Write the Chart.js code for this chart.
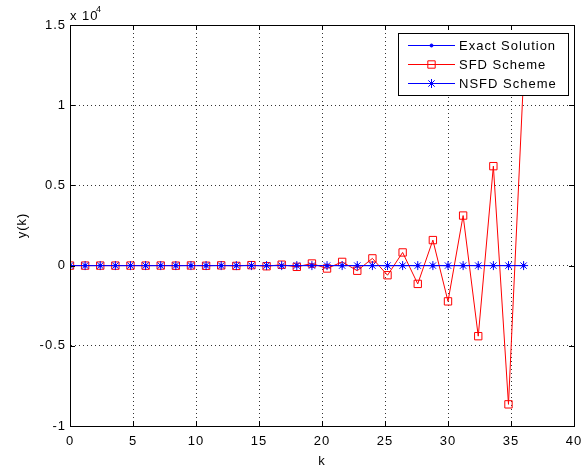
<!DOCTYPE html>
<html>
<head>
<meta charset="utf-8">
<script src="https://cdn.jsdelivr.net/npm/chart.js@4"></script>
<style>
  body { margin: 0; background: #fff; }
  #wrap { width: 581px; height: 469px; }
</style>
</head>
<body>
<div id="wrap"><canvas id="chart" width="581" height="469"></canvas></div>
<script>
// step values k
const kValues = [0, 1.2, 2.4, 3.6, 4.8, 6, 7.2, 8.4, 9.6, 10.8, 12, 13.2, 14.4, 15.6, 16.8, 18,
  19.2, 20.4, 21.6, 22.8, 24, 25.2, 26.4, 27.6, 28.8, 30, 31.2, 32.4, 33.6, 34.8, 36];

const exactValues = [0.5, 0.38, 0.29, 0.22, 0.17, 0.13, 0.1, 0.08, 0.06, 0.05, 0.04, 0.03, 0.02, 0.02,
  0.01, 0.01, 0.01, 0.01, 0, 0, 0, 0, 0, 0, 0, 0, 0, 0, 0, 0, 0];

const sfdValues = [0.5, -0.7, 1, -1.4, 1.9, -2.7, 3.8, -5.3, 7.4, -10, 14, -20, 28, -40, 56, -78,
  130, -180, 230, -320, 450, -600, 820, -1140, 1590, -2230, 3120, -4400, 6200, -8650, 11800];

const nsfdValues = [0.5, 0.37, 0.28, 0.21, 0.16, 0.12, 0.09, 0.07, 0.05, 0.04, 0.03, 0.02, 0.02, 0.01,
  0.01, 0.01, 0, 0, 0, 0, 0, 0, 0, 0, 0, 0, 0, 0, 0, 0, 0];

const xTicks = [0, 5, 10, 15, 20, 25, 30, 35, 40];
const yTicks = [-10000, -5000, 0, 5000, 10000, 15000];

const seriesNames = ["Exact Solution", "SFD Scheme", "NSFD Scheme"];

const font = "Liberation Sans, Arial, Helvetica, sans-serif";

function pts(ys) {
  return kValues.map((k, i) => ({ x: k, y: ys[i] }));
}

// matlab text is a bit wider than arial
const spacing = {
  id: "spacing",
  beforeLayout(chart) { chart.ctx.letterSpacing = "1px"; },
  beforeDraw(chart) { chart.ctx.letterSpacing = "1px"; }
};

// matlab like box, inward ticks, legend and exponent label
const matlabBits = {
  id: "matlabBits",
  afterDatasetsDraw(chart) {
    const ctx = chart.ctx;
    const a = chart.chartArea;
    const xs = chart.scales.x, ys = chart.scales.y;
    ctx.save();
    ctx.letterSpacing = "1px";
    ctx.strokeStyle = "#000";
    ctx.lineWidth = 1;
    ctx.setLineDash([]);
    ctx.beginPath();
    xTicks.forEach(v => {
      const px = Math.round(xs.getPixelForValue(v)) + 0.5;
      ctx.moveTo(px, a.bottom); ctx.lineTo(px, a.bottom - 5);
      ctx.moveTo(px, a.top); ctx.lineTo(px, a.top + 5);
    });
    yTicks.forEach(v => {
      const py = Math.round(ys.getPixelForValue(v)) + 0.5;
      ctx.moveTo(a.left, py); ctx.lineTo(a.left + 5, py);
      ctx.moveTo(a.right, py); ctx.lineTo(a.right - 5, py);
    });
    ctx.stroke();
    ctx.strokeRect(Math.round(a.left) + 0.5, Math.round(a.top) + 0.5,
      Math.round(a.right - a.left), Math.round(a.bottom - a.top));

    // legend box
    const bx = 398.5, by = 33.5, bw = 170, bh = 62;
    ctx.fillStyle = "#fff";
    ctx.fillRect(bx, by, bw, bh);
    ctx.strokeRect(bx, by, bw, bh);
    ctx.font = "13px " + font;
    ctx.textBaseline = "middle";
    chart.data.datasets.forEach((ds, i) => {
      const y = 45 + i * 19;
      ctx.strokeStyle = ds.borderColor;
      ctx.fillStyle = ds.backgroundColor;
      ctx.lineWidth = 1;
      ctx.beginPath();
      ctx.moveTo(408, y + 0.5); ctx.lineTo(455, y + 0.5);
      ctx.stroke();
      Chart.helpers.drawPoint(ctx, {
        pointStyle: ds.pointStyle, radius: ds.pointRadius,
        borderWidth: 1, rotation: 0
      }, 431.5, y + 0.5);
      ctx.fillStyle = "#000";
      ctx.fillText(seriesNames[i], 459, y + 1);
    });

    // exponent
    ctx.fillStyle = "#000";
    ctx.font = "13px " + font;
    ctx.textBaseline = "alphabetic";
    ctx.fillText("x 10", 70, 20);
    ctx.font = "9px " + font;
    ctx.fillText("4", 96, 12);
    ctx.restore();
  }
};

const gridOpts = { color: "#333", lineWidth: 1, drawTicks: false };

new Chart(document.getElementById("chart"), {
  type: "line",
  data: {
    datasets: [
      {
        label: seriesNames[0], data: pts(exactValues),
        borderColor: "#0000ff", backgroundColor: "#0000ff",
        borderWidth: 1, pointStyle: "circle", pointRadius: 1.5, order: 2
      },
      {
        label: seriesNames[1], data: pts(sfdValues),
        borderColor: "#ff0000", backgroundColor: "rgba(0,0,0,0)",
        borderWidth: 1, pointStyle: "rect", pointRadius: 5.2, order: 1
      },
      {
        label: seriesNames[2], data: pts(nsfdValues),
        borderColor: "#0000ff", backgroundColor: "#0000ff",
        borderWidth: 1, pointStyle: "star", pointRadius: 4.5, order: 0
      }
    ]
  },
  options: {
    responsive: false,
    animation: false,
    layout: { padding: { left: 0, top: 25, right: 7, bottom: 0 } },
    plugins: { legend: { display: false }, tooltip: { enabled: false } },
    elements: { line: { tension: 0 } },
    scales: {
      x: {
        type: "linear", min: 0, max: 40,
        afterBuildTicks: s => { s.ticks = xTicks.map(v => ({ value: v })); },
        afterFit: s => { s.height = 43; s.paddingLeft = 0; s.paddingRight = 0; },
        grid: gridOpts,
        border: { display: true, color: "#000", dash: [1, 3] },
        ticks: { color: "#000", font: { family: font, size: 13 }, padding: 8, maxRotation: 0 },
        title: { display: true, text: "k", color: "#000", font: { family: font, size: 13 }, padding: { top: 1, bottom: 0 } }
      },
      y: {
        type: "linear", min: -10000, max: 15000,
        afterBuildTicks: s => { s.ticks = yTicks.map(v => ({ value: v })); },
        afterFit: s => { s.width = 70; s.paddingTop = 0; s.paddingBottom = 0; },
        grid: gridOpts,
        border: { display: true, color: "#000", dash: [1, 3] },
        ticks: {
          color: "#000", font: { family: font, size: 13 }, padding: 4,
          callback: v => String(v / 10000)
        },
        title: { display: true, text: "y(k)", color: "#000", font: { family: font, size: 13 }, padding: { top: 15, bottom: 0 } }
      }
    }
  },
  plugins: [spacing, matlabBits]
});
</script>
</body>
</html>
